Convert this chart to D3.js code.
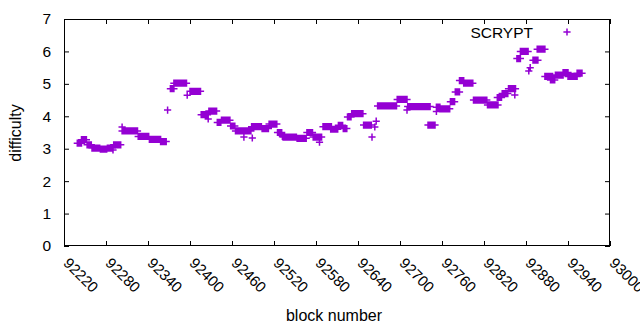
<!DOCTYPE html>
<html>
<head>
<meta charset="utf-8">
<script src="https://cdn.jsdelivr.net/npm/d3@7"></script>
<style>
  html, body { margin: 0; padding: 0; background: #fff; }
  svg { display: block; font-family: "Liberation Sans", Arial, sans-serif; }
</style>
</head>
<body>
<svg id="chart" width="640" height="330"></svg>
<script>
// ---- data ----
// Each run: SCRYPT blocks from runFrom..runTo (inclusive) sharing one difficulty value.
const runFrom = [92239,92245,92253,92260,92272,92282,92290,92291,92303,92303,92326,92342,92358,92368,92372,92377,92396,92400,92416,92426,92427,92439,92445,92458,92465,92477,92489,92488,92503,92513,92525,92532,92533,92553,92567,92576,92585,92590,92601,92612,92619,92625,92631,92648,92660,92664,92666,92668,92696,92710,92711,92740,92752,92752,92757,92772,92779,92785,92791,92805,92825,92839,92846,92855,92864,92867,92872,92884,92886,92890,92896,92907,92915,92922,92933,92940,92953];
const runTo   = [92245,92252,92259,92271,92281,92289,92290,92301,92303,92325,92341,92358,92366,92368,92377,92395,92396,92415,92425,92426,92438,92444,92457,92464,92487,92477,92489,92502,92512,92524,92531,92535,92552,92566,92575,92588,92585,92602,92611,92618,92624,92630,92647,92659,92660,92664,92666,92695,92710,92710,92743,92750,92757,92752,92771,92778,92785,92791,92804,92824,92840,92845,92854,92865,92864,92872,92883,92884,92886,92897,92907,92918,92921,92933,92940,92953,92960];
const runDiff = [3.17,3.28,3.12,3.02,2.99,3.02,2.96,3.12,3.67,3.55,3.38,3.29,3.22,4.19,4.85,5.02,4.65,4.77,4.05,3.92,4.16,3.81,3.88,3.70,3.55,3.36,3.33,3.68,3.62,3.76,3.50,3.38,3.36,3.32,3.50,3.36,3.20,3.68,3.60,3.72,3.62,3.98,4.08,3.73,3.36,3.67,3.85,4.32,4.52,4.19,4.30,3.73,4.28,4.15,4.23,4.45,4.75,5.10,5.02,4.50,4.35,4.58,4.70,4.85,4.66,5.78,6.00,5.40,5.50,5.73,6.07,5.23,5.12,5.27,5.35,5.23,5.33];
const xTicks = [92220,92280,92340,92400,92460,92520,92580,92640,92700,92760,92820,92880,92940,93000];
const yTicks = [0,1,2,3,4,5,6,7];
const seriesName = "SCRYPT";
const xLabel = "block number";
const yLabel = "difficulty";

// expand runs into one point per block
const points = [];
runFrom.forEach((f, i) => {
  for (let b = f; b <= runTo[i]; b++) points.push({ block: b, diff: runDiff[i] });
});

// ---- layout ----
const svg = d3.select("#chart");
const L = 64, R = 610, T = 19, B = 246;
const color = "#9400D3";
const FONT = '"Liberation Sans", Arial, sans-serif';
const x = d3.scaleLinear().domain([92220, 93000]).range([L, R]);
const y = d3.scaleLinear().domain([0, 7]).range([B, T]);

// axes
const gx = svg.append("g").attr("transform", `translate(0,${B})`)
  .call(d3.axisBottom(x).tickValues(xTicks).tickFormat(d3.format("d")).tickSizeInner(-5).tickSizeOuter(0));
gx.select(".domain").remove();
gx.selectAll("text")
  .attr("x", 0).attr("y", 0).attr("dy", 0)
  .attr("transform", "translate(-2,18) rotate(45)")
  .style("text-anchor", "start")
  .style("font-size", "15px").style("fill", "#000")
  .style("font-family", FONT);

const gxt = svg.append("g").attr("transform", `translate(0,${T})`)
  .call(d3.axisTop(x).tickValues(xTicks).tickFormat("").tickSizeInner(-5).tickSizeOuter(0));
gxt.select(".domain").remove();

const gy = svg.append("g").attr("transform", `translate(${L},0)`)
  .call(d3.axisLeft(y).tickValues(yTicks).tickFormat(d3.format("d")).tickSizeInner(-5).tickSizeOuter(0).tickPadding(13));
gy.select(".domain").remove();
gy.selectAll("text").style("font-size", "15.5px").style("fill", "#000")
  .style("font-family", FONT);

const gyr = svg.append("g").attr("transform", `translate(${R},0)`)
  .call(d3.axisRight(y).tickValues(yTicks).tickFormat("").tickSizeInner(-5).tickSizeOuter(0));
gyr.select(".domain").remove();

svg.selectAll(".tick line").attr("stroke", "#000").attr("stroke-width", 1);

// border
svg.append("rect").attr("x", L + 0.5).attr("y", T + 0.5)
  .attr("width", R - L - 1).attr("height", B - T - 1)
  .attr("fill", "none").attr("stroke", "#000").attr("stroke-width", 1);

// points as "+" markers
const h = 3.6;
const plus = (px, py) => `M${px - h},${py}H${px + h}M${px},${py - h}V${py + h}`;
svg.append("path")
  .attr("d", points.map(p => plus(x(p.block), y(p.diff))).join(""))
  .attr("fill", "none").attr("stroke", color).attr("stroke-width", 1.5);

// legend
svg.append("text").attr("x", 533).attr("y", 37.5).attr("text-anchor", "end")
  .style("font-size", "15.5px").text(seriesName);
svg.append("path").attr("d", plus(567, 32)).attr("fill", "none")
  .attr("stroke", color).attr("stroke-width", 1.5);

// axis titles
svg.append("text").attr("x", 334).attr("y", 321).attr("text-anchor", "middle")
  .style("font-size", "16px").text(xLabel);
svg.append("text").attr("transform", "translate(21,133) rotate(-90)")
  .attr("text-anchor", "middle").style("font-size", "16px").text(yLabel);
</script>
</body>
</html>
